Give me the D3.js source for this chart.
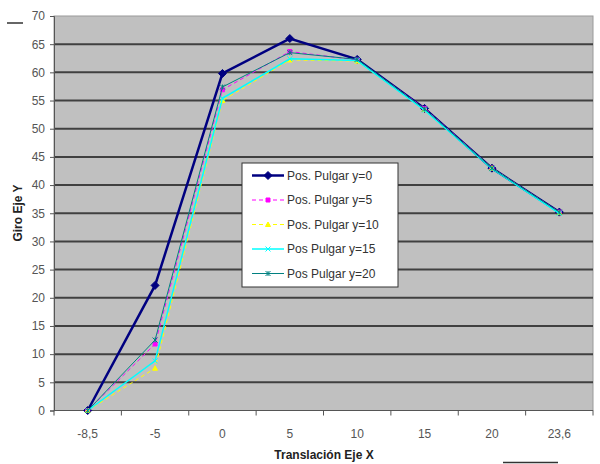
<!DOCTYPE html>
<html>
<head>
<meta charset="utf-8">
<script src="https://cdn.jsdelivr.net/npm/d3@7"></script>
<style>
  body { margin: 0; background: #fff; }
  text { font-family: "Liberation Sans", Arial, sans-serif; }
</style>
</head>
<body>
<div id="chart"></div>
<script>
// Categories on the X axis (Translación Eje X)
const categories = ["-8,5", "-5", "0", "5", "10", "15", "20", "23,6"];

// Series values (Giro Eje Y)
const pulgar0  = [0, 22.2, 59.8, 66.0, 62.3, 53.6, 43.0, 35.2];
const pulgar5  = [0, 11.8, 56.9, 63.7, 62.2, 53.6, 43.0, 35.2];
const pulgar10 = [0, 7.5, 55.0, 62.2, 62.0, 53.4, 43.0, 35.1];
const pulgar15 = [0, 8.8, 55.4, 62.4, 62.1, 53.3, 42.9, 35.0];
const pulgar20 = [0, 12.5, 57.4, 63.5, 62.3, 53.5, 43.0, 35.2];

const yTicks = d3.range(0, 71, 5);

const series = [
    {name: "Pos. Pulgar y=0",  values: pulgar0,  color: "#000080", width: 2.5, dash: null,  marker: "diamond"},
    {name: "Pos. Pulgar y=5",  values: pulgar5,  color: "#ff00ff", width: 1,   dash: "4,3", marker: "square"},
    {name: "Pos. Pulgar y=10", values: pulgar10, color: "#ffff00", width: 1,   dash: "4,3", marker: "triangle"},
    {name: "Pos Pulgar y=15",  values: pulgar15, color: "#00ffff", width: 1.5, dash: null,  marker: "cross"},
    {name: "Pos Pulgar y=20",  values: pulgar20, color: "#008080", width: 1,   dash: null,  marker: "star"}
];

const W = 600, H = 464;
const plot = {left: 54, right: 593, top: 16, bottom: 410.5};

const svg = d3.select("#chart")
              .append("svg")
              .attr("width", W)
              .attr("height", H);

const x = d3.scaleBand()
            .domain(categories)
            .range([plot.left, plot.right]);

const y = d3.scaleLinear()
            .domain([0, 70])
            .range([plot.bottom, plot.top]);

// Plot background
svg.append("rect")
   .attr("x", plot.left)
   .attr("y", plot.top)
   .attr("width", plot.right - plot.left)
   .attr("height", plot.bottom - plot.top)
   .attr("fill", "#c0c0c0")
   .attr("stroke", "#9a9a9a")
   .attr("stroke-width", 1);

// Horizontal gridlines
svg.append("g")
   .selectAll("line")
   .data(yTicks.filter(d => d > 0 && d < 70))
   .enter()
   .append("line")
   .attr("x1", plot.left)
   .attr("x2", plot.right)
   .attr("y1", d => y(d))
   .attr("y2", d => y(d))
   .attr("stroke", "#404040")
   .attr("stroke-width", 2);

// Y axis
const yAxis = svg.append("g")
   .attr("transform", `translate(${plot.left},0)`)
   .call(d3.axisLeft(y).tickValues(yTicks).tickSize(4).tickPadding(5));
yAxis.select(".domain").attr("stroke", "#555");
yAxis.selectAll(".tick line").attr("stroke", "#555");
yAxis.selectAll("text")
     .attr("font-size", 12)
     .attr("fill", "#555");

// X axis: ticks on band boundaries, labels centred
const xAxis = svg.append("g")
   .attr("transform", `translate(0,${plot.bottom})`);
xAxis.append("line")
     .attr("x1", plot.left).attr("x2", plot.right)
     .attr("stroke", "#555");
xAxis.selectAll(".xtick")
     .data(categories.concat([null]))
     .enter()
     .append("line")
     .attr("x1", (d, i) => i < categories.length ? x(d) : plot.right)
     .attr("x2", (d, i) => i < categories.length ? x(d) : plot.right)
     .attr("y1", 0)
     .attr("y2", 5)
     .attr("stroke", "#555");
xAxis.selectAll(".xlabel")
     .data(categories)
     .enter()
     .append("text")
     .attr("x", d => x(d) + x.bandwidth() / 2)
     .attr("y", 27)
     .attr("text-anchor", "middle")
     .attr("font-size", 12)
     .attr("fill", "#555")
     .text(d => d);

// Marker shapes
function markerPath(type, size) {
    const s = size;
    if (type === "diamond") return `M0,${-s}L${s},0L0,${s}L${-s},0Z`;
    if (type === "square") return `M${-s * 0.8},${-s * 0.8}h${s * 1.6}v${s * 1.6}h${-s * 1.6}Z`;
    if (type === "triangle") return `M0,${-s}L${s},${s * 0.8}L${-s},${s * 0.8}Z`;
    if (type === "cross") return `M${-s},${-s}L${s},${s}M${-s},${s}L${s},${-s}`;
    return `M${-s},${-s}L${s},${s}M${-s},${s}L${s},${-s}M0,${-s}V${s}`;
}

const cx = (d, i) => x(categories[i]) + x.bandwidth() / 2;

const line = d3.line()
               .x(cx)
               .y(d => y(d));

series.forEach(s => {
    svg.append("path")
       .datum(s.values)
       .attr("d", line)
       .attr("fill", "none")
       .attr("stroke", s.color)
       .attr("stroke-width", s.width)
       .attr("stroke-dasharray", s.dash);

    svg.append("g")
       .selectAll("path")
       .data(s.values)
       .enter()
       .append("path")
       .attr("transform", (d, i) => `translate(${cx(d, i)},${y(d)})`)
       .attr("d", markerPath(s.marker, s.marker === "diamond" ? 4 : 2.5))
       .attr("fill", s.color)
       .attr("stroke", s.color)
       .attr("stroke-width", 1);
});

// Legend
const legend = svg.append("g").attr("transform", "translate(242,163)");
legend.append("rect")
      .attr("width", 156)
      .attr("height", 124)
      .attr("fill", "#fff")
      .attr("stroke", "#333")
      .attr("stroke-width", 1);

const item = legend.selectAll(".item")
                   .data(series)
                   .enter()
                   .append("g")
                   .attr("transform", (d, i) => `translate(0,${12.5 + i * 24.5})`);
item.append("line")
    .attr("x1", 10).attr("x2", 42)
    .attr("stroke", d => d.color)
    .attr("stroke-width", d => d.width)
    .attr("stroke-dasharray", d => d.dash);
item.append("path")
    .attr("transform", "translate(26,0)")
    .attr("d", d => markerPath(d.marker, d.marker === "diamond" ? 4 : 2.5))
    .attr("fill", d => d.color)
    .attr("stroke", d => d.color);
item.append("text")
    .attr("x", 45)
    .attr("y", 4)
    .attr("font-size", 12)
    .attr("fill", "#333")
    .text(d => d.name);

// Axis titles
svg.append("text")
   .attr("x", 324)
   .attr("y", 459)
   .attr("text-anchor", "middle")
   .attr("font-size", 12)
   .attr("font-weight", "bold")
   .attr("fill", "#222")
   .text("Translación Eje X");

svg.append("text")
   .attr("transform", "translate(22,213) rotate(-90)")
   .attr("text-anchor", "middle")
   .attr("font-size", 12)
   .attr("font-weight", "bold")
   .attr("fill", "#222")
   .text("Giro Eje Y");

// Small stray strokes seen in the original picture
svg.append("line").attr("x1", 7).attr("x2", 23).attr("y1", 23).attr("y2", 23)
   .attr("stroke", "#333").attr("stroke-width", 1.5);
svg.append("line").attr("x1", 503).attr("x2", 558).attr("y1", 462.5).attr("y2", 462.5)
   .attr("stroke", "#333").attr("stroke-width", 1.5);
</script>
</body>
</html>
